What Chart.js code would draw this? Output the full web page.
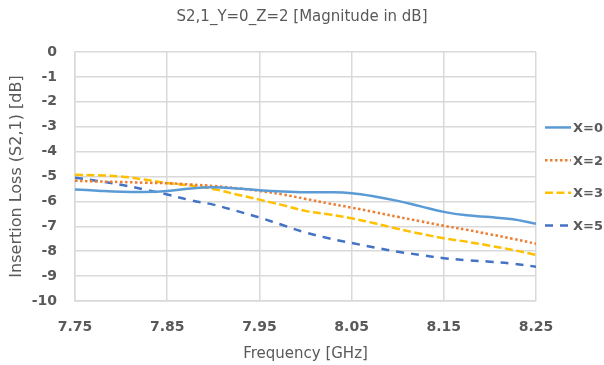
<!DOCTYPE html>
<html lang="en">
<head>
    <meta charset="UTF-8">
    <title>S2,1 Insertion Loss</title>
    <script src="https://cdn.jsdelivr.net/npm/chart.js"></script>
    <style>
        html, body { margin: 0; padding: 0; background: #fff; }
        #wrap { width: 604px; height: 365px; }
    </style>
</head>
<body>
    <div id="wrap"><canvas id="s21-chart"></canvas></div>

    <script>
        // frequency points (GHz)
        const freqs = [7.75, 7.775, 7.80, 7.825, 7.85, 7.875, 7.90, 7.925, 7.95, 7.975, 8.00,
                       8.025, 8.05, 8.075, 8.10, 8.125, 8.15, 8.175, 8.20, 8.225, 8.25];

        // insertion loss in dB
        const lossX0 = [-5.52, -5.57, -5.61, -5.62, -5.58, -5.48, -5.43, -5.48, -5.55, -5.60, -5.63,
                        -5.63, -5.67, -5.80, -5.98, -6.20, -6.42, -6.56, -6.63, -6.72, -6.90];
        const lossX2 = [-5.17, -5.20, -5.22, -5.25, -5.27, -5.32, -5.38, -5.47, -5.58, -5.72, -5.90,
                        -6.08, -6.25, -6.43, -6.62, -6.80, -6.98, -7.14, -7.32, -7.50, -7.70];
        const lossX3 = [-4.93, -4.95, -5.00, -5.12, -5.26, -5.36, -5.50, -5.72, -5.93, -6.15, -6.38,
                        -6.52, -6.68, -6.88, -7.10, -7.30, -7.48, -7.62, -7.78, -7.95, -8.15];
        const lossX5 = [-5.05, -5.18, -5.33, -5.52, -5.72, -5.95, -6.13, -6.38, -6.65, -6.95, -7.25,
                        -7.48, -7.67, -7.85, -8.02, -8.15, -8.28, -8.36, -8.42, -8.50, -8.62];

        const seriesNames = ['X=0', 'X=2', 'X=3', 'X=5'];
        const xTicks = [7.75, 7.85, 7.95, 8.05, 8.15, 8.25];

        const FONT = "'DejaVu Sans', sans-serif";
        const GREY = '#595959';
        const GRID = '#D9D9D9';

        function toPoints(values) {
            return freqs.map((f, i) => ({ x: f, y: values[i] }));
        }

        // legend on the right, drawn by hand so the dash styles show and rows are spaced like the original
        const sideLegend = {
            id: 'sideLegend',
            afterDraw(chart) {
                const { ctx, chartArea } = chart;
                const x0 = chartArea.right + 9;
                const mid = (chartArea.top + chartArea.bottom) / 2;
                const rowGap = 32.7;
                const n = chart.data.datasets.length;
                chart.data.datasets.forEach((ds, i) => {
                    const y = mid + (i - (n - 1) / 2) * rowGap;
                    ctx.save();
                    ctx.strokeStyle = ds.borderColor;
                    ctx.lineWidth = ds.borderWidth;
                    ctx.setLineDash(ds.borderDash || []);
                    ctx.beginPath();
                    ctx.moveTo(x0, y);
                    ctx.lineTo(x0 + 26, y);
                    ctx.stroke();
                    ctx.setLineDash([]);
                    ctx.fillStyle = GREY;
                    ctx.font = 'bold 13px ' + FONT;
                    ctx.textBaseline = 'middle';
                    ctx.fillText(ds.label, x0 + 28, y + 1);
                    ctx.restore();
                });
            }
        };

        const ctx = document.getElementById('s21-chart').getContext('2d');
        new Chart(ctx, {
            type: 'line',
            data: {
                datasets: [
                    { label: seriesNames[0], data: toPoints(lossX0), borderColor: '#5B9BD5', borderWidth: 2.5 },
                    { label: seriesNames[1], data: toPoints(lossX2), borderColor: '#ED7D31', borderWidth: 2.5, borderDash: [2.5, 2.5] },
                    { label: seriesNames[2], data: toPoints(lossX3), borderColor: '#FFC000', borderWidth: 2.5, borderDash: [8, 3.5] },
                    { label: seriesNames[3], data: toPoints(lossX5), borderColor: '#4472C4', borderWidth: 2.5, borderDash: [8, 7] }
                ]
            },
            plugins: [sideLegend],
            options: {
                responsive: true,
                maintainAspectRatio: false,
                animation: false,
                elements: {
                    point: { radius: 0 },
                    line: { tension: 0.4, fill: false }
                },
                layout: { padding: { left: 0, right: 0, top: 0, bottom: 0 } },
                plugins: {
                    title: {
                        display: true,
                        text: 'S2,1_Y=0_Z=2 [Magnitude in dB]',
                        color: GREY,
                        font: { family: FONT, size: 15, weight: 'normal' },
                        padding: { top: 8, bottom: 26 }
                    },
                    legend: { display: false },
                    tooltip: { enabled: false }
                },
                scales: {
                    x: {
                        type: 'linear',
                        min: 7.75,
                        max: 8.25,
                        afterBuildTicks: (scale) => { scale.ticks = xTicks.map(v => ({ value: v })); },
                        afterFit: (scale) => { scale.height = 64; },
                        ticks: {
                            color: GREY,
                            font: { family: FONT, size: 14, weight: 'bold' },
                            padding: 18,
                            maxRotation: 0,
                            callback: (v) => Number(v).toFixed(2)
                        },
                        grid: { color: GRID, lineWidth: 1.5, drawTicks: false },
                        border: { color: GRID, width: 1.5 },
                        title: {
                            display: true,
                            text: 'Frequency [GHz]',
                            color: GREY,
                            font: { family: FONT, size: 15, weight: 'normal' },
                            padding: { top: 0, bottom: 2 }
                        }
                    },
                    y: {
                        min: -10,
                        max: 0,
                        afterFit: (scale) => { scale.width = 75; },
                        ticks: {
                            stepSize: 1,
                            color: GREY,
                            font: { family: FONT, size: 14, weight: 'bold' },
                            padding: 18
                        },
                        grid: { color: GRID, lineWidth: 1.5, drawTicks: false },
                        border: { color: GRID, width: 1.5 },
                        title: {
                            display: true,
                            text: 'Insertion Loss (S2,1) [dB]',
                            color: GREY,
                            font: { family: FONT, size: 16, weight: 'normal' },
                            padding: { top: 7, bottom: 0 }
                        }
                    },
                    // empty axis on the right that only keeps room for the legend
                    legendRoom: {
                        position: 'right',
                        display: true,
                        afterFit: (scale) => { scale.width = 68; },
                        ticks: { display: false },
                        grid: { display: false },
                        border: { display: false }
                    }
                }
            }
        });
    </script>
</body>
</html>
